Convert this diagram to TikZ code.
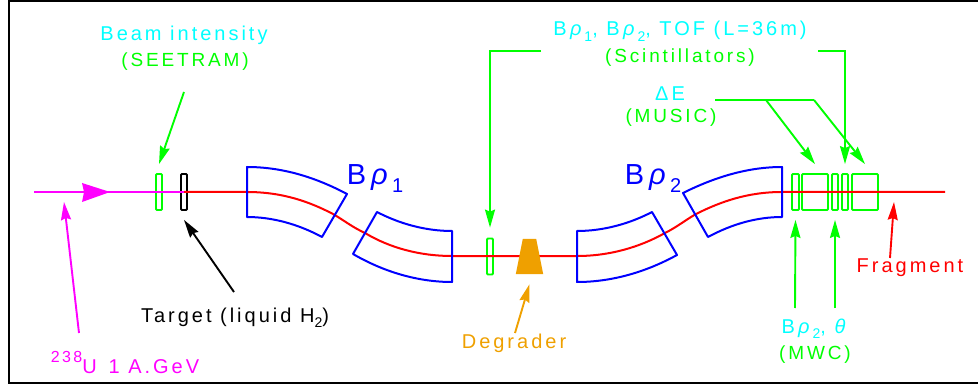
\documentclass[tikz,border=0pt]{standalone}
\usepackage{fontspec}
\setmainfont{Liberation Sans}[LetterSpace=15]
\usepackage{tikz}
\usetikzlibrary{arrows.meta}
\definecolor{degcolor}{RGB}{239,160,0}
\definecolor{labcyan}{RGB}{0,255,255}
\definecolor{beammag}{RGB}{255,0,255}
\newcommand{\lowsub}[2][14]{\raisebox{-0.5ex}{\fontsize{#1}{#1}\selectfont #2}}
\newcommand{\highsup}[1]{\raisebox{1.0ex}{\fontsize{16}{16}\selectfont #1}}
\tikzstyle{lab} = [anchor=base, inner sep=0pt, font=\fontsize{20}{22}\selectfont]
\tikzstyle{caplab} = [lab, green, font=\fontsize{19}{22}\selectfont]
\tikzstyle{biglab} = [lab, blue, font=\fontsize{29}{30}\selectfont]
\tikzstyle{magnet} = [draw=blue, line width=2pt, line join=round]
\tikzstyle{beam} = [line width=2pt]
\tikzstyle{detector} = [rectangle, rounded corners=1pt, draw=green, line width=1.8pt, inner sep=0pt, minimum width=6pt, minimum height=36pt]
\tikzstyle{arrow} = [line width=1.9pt, -{Stealth[length=18pt, width=10pt, inset=2pt]}]
\begin{document}
\begin{tikzpicture}[x=1pt, y=-1pt]
\useasboundingbox (0,0) rectangle (978,385);
\draw [line width=2.6pt] (978,1) -- (9,1) -- (9,383) -- (978,383);

% detectors
\node (seetram) [detector] at (159,192) {};
\node (target) [detector, draw=black] at (184,192) {};
\node (scint1) [detector] at (490,256.5) {};
\node (mwc1) [detector, minimum width=7pt] at (795.5,192) {};
\node (music1) [detector, minimum width=26pt] at (815,192) {};
\node (mwc2) [detector] at (835,192) {};
\node (scint2) [detector] at (845,192) {};
\node (music2) [detector, minimum width=26pt] at (865,192) {};

% beam
\coordinate (beamin) at (34,192);
\coordinate (beamout) at (945,192);
\draw [beam, red] (target.center) -- (247,192) .. controls (283,192) and (310,202) .. (333,214)
  .. controls (345,221) and (352,227) .. (365,233) .. controls (390,248) and (420,256) .. (452,256)
  -- (577,256) .. controls (610,256) and (640,247) .. (665,233)
  .. controls (677,227) and (684,221) .. (696,214) .. controls (720,202) and (747,192) .. (782,192)
  -- (beamout);
\draw [beam, beammag] (beamin) -- (target.center);
\fill [beammag] (82,183) -- (110,192) -- (82,202) -- (84,192) -- cycle;

% dipoles
\draw [magnet] (247,167) .. controls (282,167) and (315,177) .. (347,194) -- (322,237)
  .. controls (298,224) and (272,217) .. (247,217) -- cycle;
\draw [magnet] (377,212) .. controls (400,224) and (426,231) .. (452,231) -- (452,282)
  .. controls (418,282) and (384,272) .. (353,254) -- cycle;
\draw [magnet] (577,231) .. controls (603,231) and (629,224) .. (652,212) -- (677,255)
  .. controls (646,272) and (612,282) .. (577,282) -- cycle;
\draw [magnet] (683,193) .. controls (715,177) and (748,167) .. (782,167) -- (782,217)
  .. controls (757,217) and (732,224) .. (708,237) -- cycle;

\node (degrader) [inner sep=0pt, minimum width=27pt, minimum height=35pt] at (529.5,256.5) {};
\fill [degcolor] (degrader.south west) -- (degrader.south east) -- ([xshift=-7pt]degrader.north east) -- ([xshift=7pt]degrader.north west) -- cycle;

% labels
\node (beamlab) [lab, labcyan] at (184,41) {Beam intensity};
\node (seetramlab) [caplab] at (185,67) {(SEETRAM)};
\node (tofl) [lab, labcyan] at (680,36) {B\,\textit{ρ}\lowsub{1}, B\,\textit{ρ}\lowsub{2}, TOF (L=36m)};
\node (scintlab) [caplab] at (680,63) {(Scintillators)};
\node (delab) [lab, labcyan] at (670,101) {ΔE};
\node (musiclab) [caplab] at (671,123) {(MUSIC)};
\node (brho1) [biglab] at (375,185) {B\,\textit{ρ}\lowsub[20]{1}};
\node (brho2) [biglab] at (653,185) {B\,\textit{ρ}\lowsub[20]{2}};
\node (targetlab) [lab] at (235,322) {Target (liquid H\lowsub{2})};
\node (ulab) [lab, beammag] at (125,373) {\highsup{238}U\, 1 A.GeV};
\node (deglab) [lab, degcolor] at (514,348) {Degrader};
\node (fraglab) [lab, red] at (910,272) {Fragment};
\node (mwclab1) [lab, labcyan] at (815,333) {B\,\textit{ρ}\lowsub{2}, \textit{θ}};
\node (mwclab2) [caplab] at (815,359) {(MWC)};

% arrow tails
\coordinate (seetail) at (184,92);
\coordinate (tartail) at (234,292);
\coordinate (utail) at (79,333);
\coordinate (degtail) at (515,333);
\coordinate (fragtail) at (890,258);
\coordinate (mwctail1) at (795,308);
\coordinate (mwctail2) at (835,308);
\coordinate (scintail1) at (541,51);
\coordinate (scintail2) at (818,51);
\coordinate (detail) at (715,100);
\coordinate (debranch1) at (766,100);
\coordinate (debranch2) at (814,100);
\coordinate (fraghead) at (894,202);
\coordinate (uhead) at (64,202);

% arrows
\draw [arrow, green] (seetail) -- ([yshift=9pt]seetram.north);
\draw [arrow, black] (tartail) -- ([yshift=-9pt]target.south);
\draw [arrow, beammag] (utail) -- (uhead);
\draw [arrow, degcolor] (degtail) -- ([yshift=-10pt]degrader.south);
\draw [arrow, red] (fragtail) -- (fraghead);
\draw [arrow, green] (mwctail1) -- ([yshift=-9pt]mwc1.south);
\draw [arrow, green] (mwctail2) -- ([yshift=-9pt]mwc2.south);
\draw [arrow, green] (scintail1) -- (scint1.north |- scintail1) -- ([yshift=10pt]scint1.north);
\draw [arrow, green] (scintail2) -- (scint2.north |- scintail2) -- ([yshift=9pt]scint2.north);
\draw [line width=1.9pt, green] (detail) -- (debranch2);
\draw [arrow, green] (debranch1) -- ([yshift=9pt]music1.north);
\draw [arrow, green] (debranch2) -- ([yshift=9pt]music2.north);
\end{tikzpicture}
\end{document}
